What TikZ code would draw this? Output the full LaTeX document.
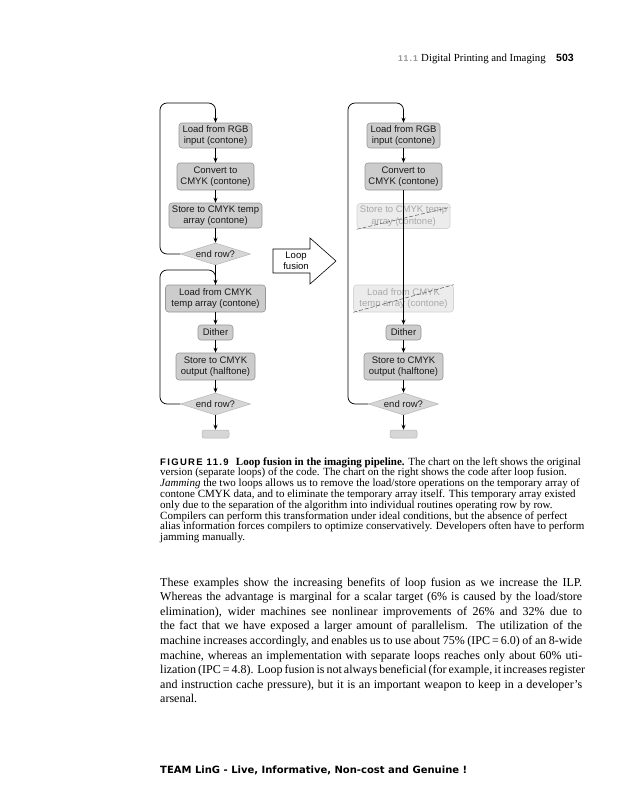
\documentclass[tikz,border=0pt]{standalone}
\usepackage{fontspec}
\setmainfont{Liberation Serif}
\newfontfamily\arialfam{Liberation Sans}
\newfontfamily\figfam[LetterSpace=14]{Liberation Sans}
\newfontfamily\footfam{DejaVu Sans}
\usetikzlibrary{arrows.meta,shapes.geometric}
\definecolor{boxfill}{RGB}{204,204,204}
\definecolor{boxborder}{RGB}{150,150,150}
\definecolor{diafill}{RGB}{214,214,214}
\definecolor{diaborder}{RGB}{180,180,180}
\definecolor{fadefill}{RGB}{236,236,236}
\definecolor{fadeborder}{RGB}{212,212,212}
\definecolor{fadetext}{RGB}{168,168,168}
\definecolor{teargray}{RGB}{85,85,85}
\definecolor{hdgray}{RGB}{150,150,150}
\newcommand\dgmfont{\arialfam\fontsize{9.5}{11.5}\selectfont}
\tikzset{
  box/.style={draw=boxborder, fill=boxfill, rounded corners=3pt, line width=0.6pt,
    font=\dgmfont, align=center, text=black!90, inner sep=0pt},
  faded/.style={box, draw=fadeborder, fill=fadefill, text=fadetext},
  dia/.style={diamond, aspect=3.2, draw=diaborder, fill=diafill, line width=0.5pt, font=\dgmfont,
    inner sep=0pt, minimum width=70pt, minimum height=22pt, text=black!90},
  term/.style={draw=diaborder, fill=diafill, rounded corners=2pt, line width=0.5pt,
    minimum width=27pt, minimum height=8pt, inner sep=0pt},
  flow/.style={draw=black, line width=0.75pt, -{Stealth[length=5pt,width=4pt]}},
  plainline/.style={draw=black, line width=0.75pt},
  tear/.style={draw=teargray, dash pattern=on 4pt off 2pt, line width=0.5pt},
  txt/.style={inner sep=0pt, anchor=base west},
}
\begin{document}
\begin{tikzpicture}[x=1pt,y=-1pt]
\useasboundingbox (0,0) rectangle (635,800);
\fill[white] (0,0) rectangle (635,800);

% header
\node[txt, font=\figfam\bfseries\fontsize{8.5}{9}\selectfont, text=hdgray] (hsec) at (398,61.5) {11.1};
\node[txt, font=\fontsize{10.8}{12}\selectfont] (htitle) at (421,61.5) {Digital Printing and Imaging};
\node[txt, font=\arialfam\bfseries\fontsize{10.5}{12}\selectfont] (hpage) at (556,61.5) {503};

% left chart
\node[box, minimum width=73pt, minimum height=25pt] (lrgb) at (215.5,135.5) {Load from RGB\\input (contone)};
\node[box, minimum width=77pt, minimum height=27pt] (lconv) at (215.5,176.5) {Convert to\\CMYK (contone)};
\node[box, minimum width=93pt, minimum height=25pt] (lstore) at (215.5,215.5) {Store to CMYK temp\\array (contone)};
\node[dia] (lend1) at (215.5,254) {end row?};
\node[box, minimum width=100pt, minimum height=27pt] (lload) at (215.5,298.5) {Load from CMYK\\temp array (contone)};
\node[box, minimum width=35pt, minimum height=15pt] (ldith) at (215.5,332.5) {Dither};
\node[box, minimum width=79pt, minimum height=27pt] (lstoreo) at (215.5,366.5) {Store to CMYK\\output (halftone)};
\node[dia] (lend2) at (215.5,404) {end row?};
\node[term] (lterm) at (215.5,434) {};

\draw[flow] (lrgb.south) -- (lconv.north);
\draw[flow] (lconv.south) -- (lstore.north);
\draw[flow] (lstore.south) -- (lend1.north);
\draw[flow] (lend1.south) -- (lload.north);
\draw[flow] (lload.south) -- (ldith.north);
\draw[flow] (ldith.south) -- (lstoreo.north);
\draw[flow] (lstoreo.south) -- (lend2.north);
\draw[flow] (lend2.south) -- (lterm.north);
\coordinate (lc1) at (160,103);
\coordinate (lc2) at (160,270);
\draw[flow, rounded corners=7pt] (lend1.west) -| (lc1) -| (lrgb.north);
\draw[plainline, rounded corners=7pt] (lend2.west) -| (lc2) -| (lload.north);

% fusion arrow
\draw[line width=0.6pt, fill=white, line join=miter] (273,249) -- (310,249) -- (310,238) -- (336,261) -- (310,284) -- (310,273) -- (273,273) -- cycle;
\node[font=\dgmfont, align=center, inner sep=0pt] (fusion) at (296,261) {Loop\\fusion};

% right chart
\node[box, minimum width=73pt, minimum height=25pt] (rrgb) at (403.5,135.5) {Load from RGB\\input (contone)};
\node[box, minimum width=77pt, minimum height=27pt] (rconv) at (403.5,176.5) {Convert to\\CMYK (contone)};
\node[faded, minimum width=93pt, minimum height=25pt] (rstore) at (403.5,216) {Store to CMYK temp\\array (contone)};
\node[faded, minimum width=100pt, minimum height=27pt] (rload) at (403.5,298.5) {Load from CMYK\\temp array (contone)};
\node[box, minimum width=35pt, minimum height=15pt] (rdith) at (403.5,332.5) {Dither};
\node[box, minimum width=79pt, minimum height=27pt] (rstoreo) at (403.5,366.5) {Store to CMYK\\output (halftone)};
\node[dia] (rend2) at (403.5,404) {end row?};
\node[term] (rterm) at (403.5,434) {};

\draw[tear] ([shift={(0,0.5)}]rstore.south west) -- ([shift={(0,4)}]rstore.north east);
\draw[tear] (rload.south west) -- (rload.north east);

\draw[flow] (rrgb.south) -- (rconv.north);
\draw[flow] (rconv.south) -- (rdith.north);
\draw[flow] (rdith.south) -- (rstoreo.north);
\draw[flow] (rstoreo.south) -- (rend2.north);
\draw[flow] (rend2.south) -- (rterm.north);
\coordinate (rc1) at (348,103);
\draw[flow, rounded corners=7pt] (rend2.west) -| (rc1) -| (rrgb.north);

% caption
\node[txt, font=\fontsize{11}{10.8}\selectfont] (cap) at (160,465) {\parbox[t]{460pt}{\setlength\baselineskip{10.8pt}%
{\figfam\bfseries\fontsize{9.5}{10}\selectfont FIGURE 11.9}\hspace{6pt}\textbf{Loop fusion in the imaging pipeline.} The chart on the left shows the original\\
version (separate loops) of the code. The chart on the right shows the code after loop fusion.\\
\textit{Jamming} the two loops allows us to remove the load/store operations on the temporary array of\\
contone CMYK data, and to eliminate the temporary array itself. This temporary array existed\\
only due to the separation of the algorithm into individual routines operating row by row.\\
Compilers can perform this transformation under ideal conditions, but the absence of perfect\\
alias information forces compilers to optimize conservatively. Developers often have to perform\\
jamming manually.}};

% body text
\node[txt, font=\fontsize{12}{14.6}\selectfont] (body) at (160,586) {\parbox[t]{422pt}{\setlength\baselineskip{14.6pt}%
\makebox[422pt][s]{These examples show the increasing benefits of loop fusion as we increase the ILP.}\\
\makebox[422pt][s]{Whereas the advantage is marginal for a scalar target (6\% is caused by the load/store}\\
\makebox[422pt][s]{elimination), wider machines see nonlinear improvements of 26\% and 32\% due to}\\
\makebox[422pt][s]{the fact that we have exposed a larger amount of parallelism. The utilization of the}\\
\makebox[422pt][s]{machine increases accordingly, and enables us to use about 75\% (IPC\,=\,6.0) of an 8-wide}\\
\makebox[422pt][s]{machine, whereas an implementation with separate loops reaches only about 60\% uti-}\\
\makebox[422pt][s]{lization (IPC\,=\,4.8). Loop fusion is not always beneficial (for example, it increases register}\\
\makebox[422pt][s]{and instruction cache pressure), but it is an important weapon to keep in a developer’s}\\
arsenal.}};

% footer
\node[txt, font=\footfam\bfseries\fontsize{10}{12}\selectfont] (foot) at (160,773) {TEAM LinG - Live, Informative, Non-cost and Genuine !};
\end{tikzpicture}
\end{document}
